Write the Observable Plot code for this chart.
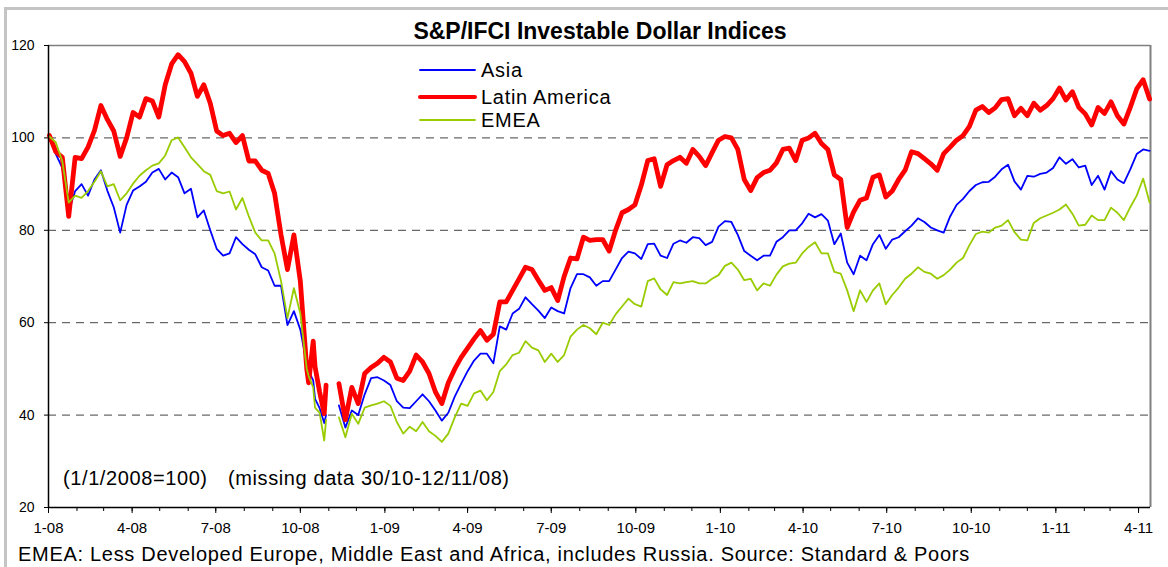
<!DOCTYPE html>
<html>
<head>
<meta charset="utf-8">
<script src="https://cdn.jsdelivr.net/npm/d3@7"></script>
<script src="https://cdn.jsdelivr.net/npm/@observablehq/plot@0.6"></script>
<style>
  html, body { margin: 0; padding: 0; background: #fff; }
  #wrap { position: relative; width: 1168px; height: 567px; overflow: hidden; font-family: "Liberation Sans", Arial, sans-serif; color: #000; }
  #wrap svg { position: absolute; left: 0; top: 0; }
  .frame { position: absolute; left: 4px; top: 7px; width: 1200px; height: 600px; border-top: 3px solid #c4c4c4; border-left: 3px solid #c4c4c4; }
  .t { position: absolute; white-space: nowrap; line-height: 1; }
  .title { left: 300px; width: 600px; text-align: center; top: 20px; font-size: 23px; font-weight: bold; }
  .leg { font-size: 20px; letter-spacing: 0.7px; left: 481px; }
  .note { font-size: 20px; letter-spacing: 0.6px; top: 468px; }
  .cap { font-size: 20px; letter-spacing: 0.7px; left: 18px; top: 544px; }
</style>
</head>
<body>
<div id="wrap"></div>
<script>
// ---------------- DATA (weekly readings, 1/1/2008 = 100) ----------------
const dates = [
  // 2008
  "2008-01-02","2008-01-09","2008-01-16","2008-01-23","2008-01-30",
  "2008-02-06","2008-02-13","2008-02-20","2008-02-27",
  "2008-03-05","2008-03-12","2008-03-19","2008-03-26",
  "2008-04-02","2008-04-09","2008-04-16","2008-04-23","2008-04-30",
  "2008-05-07","2008-05-14","2008-05-21","2008-05-28",
  "2008-06-04","2008-06-11","2008-06-18","2008-06-25",
  "2008-07-02","2008-07-09","2008-07-16","2008-07-23","2008-07-30",
  "2008-08-06","2008-08-13","2008-08-20","2008-08-27",
  "2008-09-03","2008-09-10","2008-09-17","2008-09-24",
  "2008-10-01","2008-10-08","2008-10-10","2008-10-15","2008-10-17","2008-10-22","2008-10-27","2008-10-29",
  "2008-11-05","2008-11-12","2008-11-19","2008-11-26",
  "2008-12-03","2008-12-10","2008-12-17","2008-12-24","2008-12-31",
  // 2009
  "2009-01-07","2009-01-14","2009-01-21","2009-01-28",
  "2009-02-04","2009-02-11","2009-02-18","2009-02-25",
  "2009-03-04","2009-03-11","2009-03-18","2009-03-25",
  "2009-04-01","2009-04-08","2009-04-15","2009-04-22","2009-04-29",
  "2009-05-06","2009-05-13","2009-05-20","2009-05-27",
  "2009-06-03","2009-06-10","2009-06-17","2009-06-24",
  "2009-07-01","2009-07-08","2009-07-15","2009-07-22","2009-07-29",
  "2009-08-05","2009-08-12","2009-08-19","2009-08-26",
  "2009-09-02","2009-09-09","2009-09-16","2009-09-23","2009-09-30",
  "2009-10-07","2009-10-14","2009-10-21","2009-10-28",
  "2009-11-04","2009-11-11","2009-11-18","2009-11-25",
  "2009-12-02","2009-12-09","2009-12-16","2009-12-23","2009-12-30",
  // 2010
  "2010-01-06","2010-01-13","2010-01-20","2010-01-27",
  "2010-02-03","2010-02-10","2010-02-17","2010-02-24",
  "2010-03-03","2010-03-10","2010-03-17","2010-03-24","2010-03-31",
  "2010-04-07","2010-04-14","2010-04-21","2010-04-28",
  "2010-05-05","2010-05-12","2010-05-19","2010-05-26",
  "2010-06-02","2010-06-09","2010-06-16","2010-06-23","2010-06-30",
  "2010-07-07","2010-07-14","2010-07-21","2010-07-28",
  "2010-08-04","2010-08-11","2010-08-18","2010-08-25",
  "2010-09-01","2010-09-08","2010-09-15","2010-09-22","2010-09-29",
  "2010-10-06","2010-10-13","2010-10-20","2010-10-27",
  "2010-11-03","2010-11-10","2010-11-17","2010-11-24",
  "2010-12-01","2010-12-08","2010-12-15","2010-12-22","2010-12-29",
  // 2011
  "2011-01-05","2011-01-12","2011-01-19","2011-01-26",
  "2011-02-02","2011-02-09","2011-02-16","2011-02-23",
  "2011-03-02","2011-03-09","2011-03-16","2011-03-23","2011-03-30",
  "2011-04-06","2011-04-13"
];

const latinAmerica = [
  // 2008
  100.5, 97, 95.8, 83, 95.8,
  95.5, 98, 101.6, 107,
  104, 101.5, 96, 100,
  105.5, 104.5, 108.5, 108, 104.5,
  111.5, 116, 118, 116.5,
  114, 109, 111.5, 107.5,
  101.5, 100.5, 101, 99, 100.5,
  95, 95, 93, 92.3,
  88, 79, 71.5, 79,
  69, 50, 47, 56, 50.5, 45, 40.3, 46.5,
  null, 46.8, 39, 46,
  42.5, 49, 50.3, 51.2, 52.5,
  // 2009
  51.5, 48, 47.5, 49.5,
  53, 51.5, 49, 45,
  42.5, 47, 50, 52.5,
  54.5, 56.5, 58.3, 56.2, 57.5,
  64.5, 64.5, 67, 69.5,
  72, 71.5, 69.2, 67,
  67.6, 64.8, 70, 74, 73.8,
  78.5, 77.8, 78, 78,
  75.5, 80, 83.8, 84.5, 85.5,
  89.8, 95.1, 95.5, 89.5,
  94.2, 95.1, 95.8, 94.5,
  97.5, 96, 94, 96.8, 99.5,
  // 2010
  100.3, 100, 97.5, 91,
  88.6, 91.4, 92.5, 93,
  94.6, 97.5, 97.8, 95.1, 99.5,
  100, 101, 98.8, 97.5,
  92, 91, 80.6, 84,
  86.5, 87, 91.5, 92, 87.2,
  88.5, 91, 93, 97,
  96.6, 95.5, 94.4, 93,
  96.6, 98, 99.5, 100.5, 102.5,
  106, 106.8, 105.5, 106.5,
  108.3, 108.5, 104.8, 106.4,
  104.8, 107.5, 106, 107, 108.5,
  // 2011
  110.8, 108.2, 110, 106.6,
  105.2, 102.8, 106.6, 105.3,
  107.8, 104.8, 103, 106.6, 110.6,
  112.6, 108.4
];

const asia = [
  // 2008
  100, 96.5, 93.5, 84, 88.5,
  90, 87.5, 91, 93,
  88.6, 85, 79.5, 85.5,
  88.6, 89.5, 90.5, 92.5, 93.3,
  91, 92.5, 91.5, 88,
  89, 82.8, 84.3, 80,
  76, 74.5, 75, 78.5, 77,
  75.8, 74.8, 72, 71.3,
  68, 68, 59.5, 62.5,
  58.5, 51, 49.5, 47.5, 43.5, 41.5, 38.3, 40,
  null, 42.1, 37.3, 41,
  40, 44.5, 48, 48.2, 47.5,
  // 2009
  46.5, 43, 41.6, 41.5,
  43, 44.5, 43, 41,
  38.8, 40.5, 44, 46.8,
  49.5, 51.8, 53.3, 53.3, 51.2,
  59.2, 58.5, 62, 63,
  65.5, 64, 62.6, 61,
  63.3, 62.5, 62, 67.5, 70.5,
  70.5, 69.8, 68, 69,
  69, 71.5, 74, 75.4, 75,
  73.8, 77, 77.1, 74.5,
  74, 77.1, 77.8, 77.3,
  78.5, 78.3, 76.8, 77.5, 80.8,
  // 2010
  82, 81.8, 79, 75.5,
  74.5, 73.5, 74.5, 74.5,
  77.5, 78.5, 80, 80, 81.5,
  83.6, 82.8, 83.5, 82.1,
  77, 79.3, 73, 70.5,
  74.5, 73.5, 77, 79, 76,
  78, 78.5, 79.8, 81,
  82.6, 81.8, 80.6, 80,
  79.5, 83, 85.5, 86.8, 88.5,
  89.8, 90.4, 90.5, 91.6,
  93.2, 94.2, 90.6, 88.8,
  91.8, 91.6, 92.2, 92.5, 93.5,
  // 2011
  95.8, 94.4, 95.4, 93.6,
  94, 89.8, 91.8, 88.8,
  92.8, 91, 90.2, 93.2, 96.5,
  97.5, 97.2
];

const emea = [
  // 2008
  100.3, 99, 95, 86, 87.5,
  87, 88.5, 90.5, 92.8,
  89.5, 90, 86.5, 88,
  90.1, 91.8, 93, 94, 94.5,
  96.2, 99.5, 100.1, 98,
  95.8, 94.3, 92.8, 92,
  88.5, 88, 88.4, 84.5, 87,
  83, 79.5, 77.8, 77.8,
  75, 69, 61, 67.5,
  62, 50, 48.5, 46, 41.6, 40.5, 34.5, 39,
  null, 39.5, 35.2, 40.3,
  38.1, 41.6, 42.1, 42.5, 43,
  // 2009
  42, 38.5, 36, 37.5,
  36.5, 38.5, 36.5, 35.5,
  34.2, 36, 39.5, 42.5,
  42, 44.7, 45.3, 43.2, 45,
  49.5, 51, 53, 53.5,
  56, 54.6, 54, 51.5,
  53.3, 51.5, 53, 57, 58.5,
  59.5, 58.8, 57.5, 60,
  59.5, 61.8, 63.5, 65.2, 64,
  63.5, 69, 69.6, 67.2,
  66, 68.8, 68.5, 68.8,
  69, 68.5, 68.5, 69.5, 70.3,
  // 2010
  72.3, 73, 71.5, 69.2,
  69.5, 67, 68.5, 68,
  70.4, 72.2, 72.8, 73, 75,
  76.4, 77.4, 75, 75,
  71, 70.6, 67, 62.5,
  67, 64.5, 67, 68.5, 64,
  66, 67.6, 69.5, 70.6,
  72, 71, 70.6, 69.5,
  70.3, 71.5, 73, 74, 76.8,
  79.2, 79.7, 79.5, 80.6,
  81, 82.2, 79.6, 78,
  77.8, 81.6, 82.6, 83.2, 83.8,
  // 2011
  84.5, 85.6, 83.6, 81,
  81.2, 83.2, 82.2, 82.2,
  84.9, 83.8, 82.2, 85, 87.5,
  91.2, 86
];

const seriesNames = ["Asia", "Latin America", "EMEA"];
const seriesColors = ["#0000ff", "#ff0000", "#99cc00"];
const seriesWidths = [1.8, 4.8, 1.8];

const yTicks = [20, 40, 60, 80, 100, 120];
const gridValues = [40, 60, 80, 100];
const xTickDates = ["2008-01-01","2008-04-01","2008-07-01","2008-10-01","2009-01-01","2009-04-01","2009-07-01","2009-10-01","2010-01-01","2010-04-01","2010-07-01","2010-10-01","2011-01-01","2011-04-01"];
const xTickLabels = ["1-08","4-08","7-08","10-08","1-09","4-09","7-09","10-09","1-10","4-10","7-10","10-10","1-11","4-11"];
const xDomain = ["2008-01-01", "2011-04-14"];

const titleText = "S&P/IFCI Investable Dollar Indices";
const noteBase = "(1/1/2008=100)";
const noteMissing = "(missing data 30/10-12/11/08)";
const captionText = "EMEA: Less Developed Europe, Middle East and Africa, includes Russia. Source: Standard & Poors";

// ---------------- BUILD ----------------
const valueSets = [asia, latinAmerica, emea];
const rows = seriesNames.map((name, s) =>
  dates.map((d, i) => ({date: new Date(d), value: valueSets[s][i] == null ? NaN : valueSets[s][i], series: name}))
);
const x0 = new Date(xDomain[0]), x1 = new Date(xDomain[1]);
const tickDates = xTickDates.map(d => new Date(d));
const labelOf = new Map(tickDates.map((d, i) => [+d, xTickLabels[i]]));
const monthTicks = d3.utcMonth.range(x0, x1);

const drawOrder = [0, 1, 2];

const chart = Plot.plot({
  width: 1168,
  height: 567,
  marginLeft: 48,
  marginRight: 18,
  marginTop: 45,
  marginBottom: 60,
  style: {fontFamily: "'Liberation Sans', Arial, sans-serif", fontSize: "14px", color: "#000", background: "transparent", overflow: "visible"},
  x: {type: "utc", domain: [x0, x1], label: null},
  y: {domain: [20, 120], label: null},
  marks: [
    Plot.ruleY(gridValues, {stroke: "#444", strokeWidth: 1, strokeDasharray: "8,6"}),
    Plot.ruleY([120], {stroke: "#808080", strokeWidth: 1.5}),
    Plot.ruleX([x1], {stroke: "#808080", strokeWidth: 2}),
    Plot.axisY(yTicks, {tickSize: 4, tickPadding: 10, fontSize: 14, label: null}),
    Plot.axisX(monthTicks, {tickSize: 4, tickFormat: () => "", label: null}),
    Plot.axisX(tickDates, {tickSize: 6, tickPadding: 9, fontSize: 15, tickFormat: d => labelOf.get(+d), label: null}),
    ...drawOrder.map(s => Plot.line(rows[s], {
      x: "date", y: "value",
      stroke: seriesColors[s], strokeWidth: seriesWidths[s],
      strokeLinejoin: "round", strokeLinecap: "round"
    })),
    Plot.ruleX([x0], {stroke: "#000", strokeWidth: 1.5}),
    Plot.ruleY([20], {stroke: "#000", strokeWidth: 1.5})
  ]
});

const wrap = document.getElementById("wrap");
const frame = document.createElement("div");
frame.className = "frame";
wrap.appendChild(frame);
wrap.appendChild(chart);

function addText(cls, text, style) {
  const el = document.createElement("div");
  el.className = "t " + cls;
  el.textContent = text;
  Object.assign(el.style, style || {});
  wrap.appendChild(el);
  return el;
}
addText("title", titleText);
addText("note", noteBase, {left: "63px"});
addText("note", noteMissing, {left: "228px"});
addText("cap", captionText);

// Legend
const legendTops = [60, 87, 110];
const legendLineY = [70, 97, 120];
seriesNames.forEach((name, s) => {
  const ns = "http://www.w3.org/2000/svg";
  const sw = document.createElementNS(ns, "svg");
  sw.setAttribute("width", 60); sw.setAttribute("height", 10);
  sw.style.position = "absolute";
  sw.style.left = "418px";
  sw.style.top = (legendLineY[s] - 5) + "px";
  const ln = document.createElementNS(ns, "line");
  ln.setAttribute("x1", 2); ln.setAttribute("x2", 57);
  ln.setAttribute("y1", 5); ln.setAttribute("y2", 5);
  ln.setAttribute("stroke", seriesColors[s]);
  ln.setAttribute("stroke-width", s === 1 ? 4 : 1.8);
  ln.setAttribute("stroke-linecap", "round");
  sw.appendChild(ln);
  wrap.appendChild(sw);
  addText("leg", name, {top: legendTops[s] + "px"});
});
</script>
</body>
</html>
